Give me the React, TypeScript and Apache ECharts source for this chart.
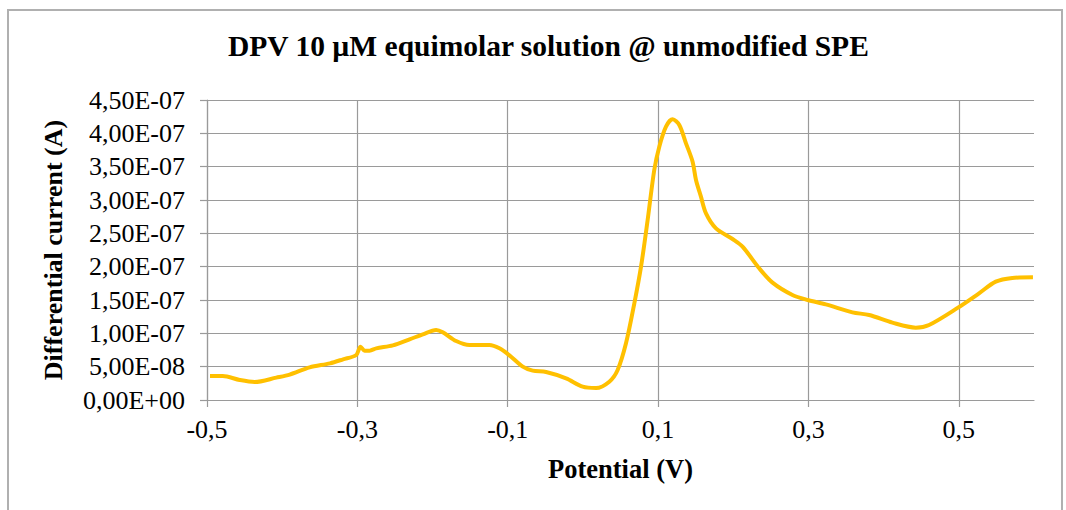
import React, { useEffect, useRef } from "react";
import * as echarts from "echarts";

// Potential (V)
const potential = [
  -0.496, -0.479, -0.4565, -0.4366, -0.4078, -0.39, -0.3635, -0.3365, -0.319, -0.3015,
  -0.2958, -0.2904, -0.2838, -0.2749, -0.2528, -0.2306, -0.2129, -0.1952, -0.1864, -0.1686,
  -0.1509, -0.1243, -0.111, -0.0977, -0.08, -0.0668, -0.049, -0.0224, -0.0003, 0.0175,
  0.0351, 0.0462, 0.0573, 0.0684, 0.0773, 0.0861, 0.0949, 0.1016, 0.1105, 0.1193,
  0.1282, 0.1371, 0.1459, 0.1504, 0.157, 0.1637, 0.177, 0.199, 0.2123, 0.2345,
  0.2522, 0.2787, 0.2992, 0.3231, 0.3585, 0.3807, 0.4117, 0.4427, 0.4604, 0.4989,
  0.5269, 0.5491, 0.5711, 0.5986,
];

// Differential current, in units of 1E-07 A
const currentE7 = [
  0.36, 0.36, 0.3, 0.27, 0.335, 0.38, 0.49, 0.55, 0.61, 0.675,
  0.8, 0.74, 0.74, 0.775, 0.82, 0.91, 0.985, 1.05, 1.015, 0.885,
  0.825, 0.825, 0.775, 0.67, 0.5, 0.44, 0.42, 0.325, 0.2, 0.18,
  0.275, 0.45, 0.85, 1.45, 2.0, 2.7, 3.45, 3.8, 4.1, 4.21,
  4.125, 3.85, 3.575, 3.3, 3.05, 2.8, 2.575, 2.415, 2.3, 1.975,
  1.76, 1.575, 1.5, 1.435, 1.315, 1.275, 1.16, 1.085, 1.125, 1.385,
  1.6, 1.775, 1.83, 1.84,
];

const X_MIN = -0.5;
const X_MAX = 0.6;
const X_STEP = 0.2;
const Y_MIN = 0;
const Y_MAX = 4.5e-7;
const Y_STEP = 0.5e-7;
const UNIT = 1e-7;

const TITLE = "DPV 10 µM equimolar solution @ unmodified SPE";
const X_NAME = "Potential (V)";
const Y_NAME = "Differential current (A)";

const FONT = "'Liberation Serif', 'Times New Roman', serif";
const GRID = "#9a9a9a";

const fmtY = (v: number) => {
  if (Math.abs(v) < 1e-15) return "0,00E+00";
  const [m, e] = v.toExponential(2).split("e");
  const n = parseInt(e, 10);
  return m.replace(".", ",") + "E" + (n < 0 ? "-" : "+") + String(Math.abs(n)).padStart(2, "0");
};

const fmtX = (v: number) => {
  const real = Math.round((v + X_MIN) * 10) / 10;
  return real.toFixed(1).replace(".", ",");
};

export default function App() {
  const ref = useRef<HTMLDivElement>(null);

  useEffect(() => {
    document.body.style.margin = "0";
    if (!ref.current) return;
    const chart = echarts.init(ref.current, null, { renderer: "svg" });
    const data = potential.map((p, i) => [p - X_MIN, currentE7[i] * UNIT]);
    chart.setOption({
      animation: false,
      backgroundColor: "#ffffff",
      title: {
        text: TITLE,
        left: 223,
        top: 26,
        textStyle: { fontFamily: FONT, fontSize: 29.5, fontWeight: "bold", color: "#000" },
      },
      grid: { left: 207, right: 32, top: 100, bottom: 110 },
      xAxis: {
        type: "value",
        min: 0,
        max: X_MAX - X_MIN,
        interval: X_STEP,
        name: X_NAME,
        nameLocation: "middle",
        nameGap: 55,
        nameTextStyle: { fontFamily: FONT, fontSize: 26.5, fontWeight: "bold", color: "#000" },
        axisLine: { show: true, onZero: false, lineStyle: { color: GRID, width: 1.2 } },
        axisTick: { show: true, length: 7, lineStyle: { color: GRID, width: 1.2 } },
        axisLabel: {
          margin: 16,
          fontFamily: FONT,
          fontSize: 26,
          color: "#000",
          showMinLabel: true,
          showMaxLabel: false,
          formatter: fmtX,
        },
        splitLine: { show: true, showMaxLine: false, lineStyle: { color: GRID, width: 1.2 } },
      },
      yAxis: {
        type: "value",
        min: Y_MIN,
        max: Y_MAX,
        interval: Y_STEP,
        name: Y_NAME,
        nameLocation: "middle",
        nameRotate: 90,
        nameGap: 141,
        nameTextStyle: { fontFamily: FONT, fontSize: 26, fontWeight: "bold", color: "#000" },
        axisLine: { show: true, lineStyle: { color: GRID, width: 1.2 } },
        axisTick: { show: true, length: 7, lineStyle: { color: GRID, width: 1.2 } },
        axisLabel: { margin: 22, fontFamily: FONT, fontSize: 26, color: "#000", formatter: fmtY },
        splitLine: { show: true, lineStyle: { color: GRID, width: 1.2 } },
      },
      series: [
        {
          type: "line",
          data,
          showSymbol: false,
          smooth: 0.3,
          lineStyle: { color: "#FFC000", width: 4 },
          itemStyle: { color: "#FFC000" },
        },
      ],
      graphic: [
        {
          type: "rect",
          silent: true,
          shape: { x: 8, y: 10, width: 1054, height: 530 },
          style: { fill: "none", stroke: "#b0b0b0", lineWidth: 2 },
        },
      ],
    });
    return () => chart.dispose();
  }, []);

  return <div ref={ref} style={{ width: 1066, height: 510 }} />;
}
